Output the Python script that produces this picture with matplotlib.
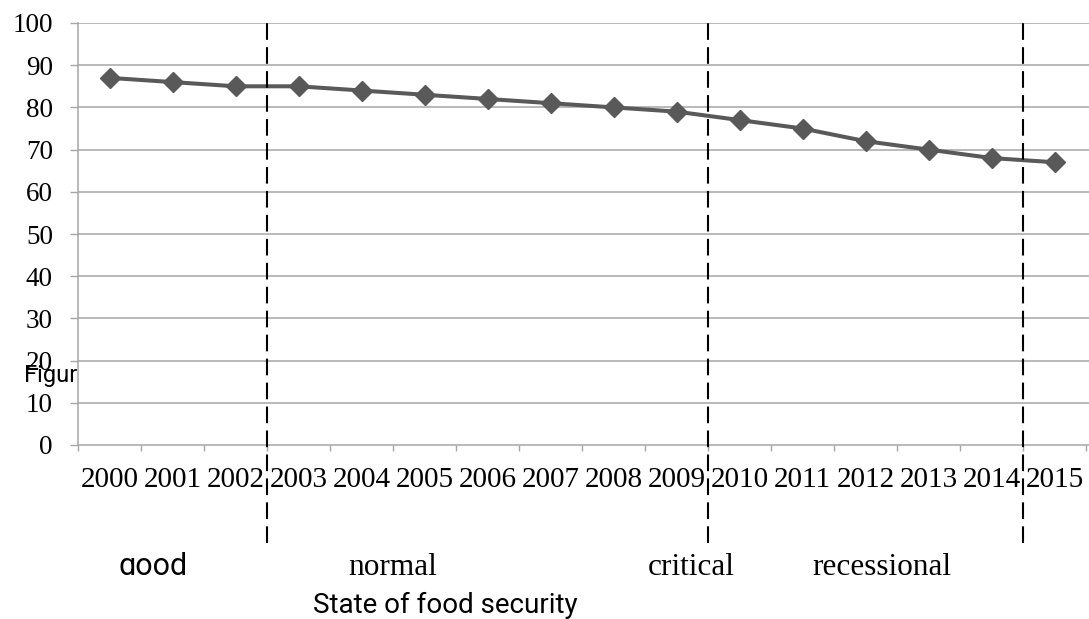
"""
Food security index 2000-2015 with state-of-security periods
"""
import numpy as np
import matplotlib.pyplot as plt
from matplotlib.transforms import Bbox

years = ['2000', '2001', '2002', '2003', '2004', '2005', '2006', '2007',
         '2008', '2009', '2010', '2011', '2012', '2013', '2014', '2015']
index_values = [87, 86, 85, 85, 84, 83, 82, 81, 80, 79, 77, 75, 72, 70, 68, 67]

# period boundaries (between categories)
period_bounds = [2.5, 9.5, 14.5]
period_labels = ['good', 'normal', 'critical', 'recessional']
y_ticks = list(range(0, 101, 10))

W, H = 1089, 619
fig = plt.figure(figsize=(W / 100, H / 100), dpi=100)

# axes placed in pixel terms
x0, x1, y_top, y_bot = 78, 1089, 23, 445
ax = fig.add_axes([x0 / W, 1 - y_bot / H, (x1 - x0) / W, (y_bot - y_top) / H])

step = 63.0
x = np.arange(len(years))
ax.set_xlim(-0.5, -0.5 + (x1 - x0) / step)
ax.set_ylim(0, 100)

grid_col = '#a6a6a6'
for v in y_ticks[1:]:
    ax.axhline(v, color=grid_col, lw=1.1, zorder=1)

ax.plot(x, index_values, color='#595959', lw=2.9, marker='D', markersize=10.5,
        markeredgecolor='#595959', zorder=3)

for b in period_bounds:
    ax.axvline(b, ymin=-0.232, ymax=1, color='black', lw=1.5,
               linestyle=(0, (8, 3.5)), clip_on=False, zorder=4)

for s in ['top', 'right']:
    ax.spines[s].set_visible(False)
for s in ['left', 'bottom']:
    ax.spines[s].set_color(grid_col)
    ax.spines[s].set_linewidth(1.1)

# y axis
ax.set_yticks(y_ticks)
ax.set_yticklabels([str(v) for v in y_ticks], family='Liberation Serif', fontsize=19.5)
ax.tick_params(axis='y', length=6, width=1, color=grid_col, pad=12)

# x axis: ticks at category boundaries, labels at centers
ax.set_xticks(np.arange(-0.5, len(years), 1.0))
ax.set_xticklabels([])
ax.tick_params(axis='x', which='major', length=4, width=1, color=grid_col)
ax.set_xticks(x, minor=True)
ax.set_xticklabels(years, minor=True, family='Liberation Serif', fontsize=21)
ax.tick_params(axis='x', which='minor', length=0, pad=16)


def fig_text(px, py, s, **kw):
    return fig.text(px / W, 1 - py / H, s, **kw)


fig_text(77, 382, 'Figur', family='Roboto', fontsize=17, ha='right', va='baseline')

t = fig_text(119, 575, period_labels[0], family='Roboto', fontsize=22, ha='left', va='baseline')
t.set_clip_box(Bbox([[0, H - 574.5], [W, H]]))
t.set_clip_on(True)

fig_text(348, 575, period_labels[1], family='Liberation Serif', fontsize=22.5, ha='left', va='baseline')
fig_text(648, 575, period_labels[2], family='Liberation Serif', fontsize=22.5, ha='left', va='baseline')
fig_text(812, 575, period_labels[3], family='Liberation Serif', fontsize=22.5, ha='left', va='baseline')

fig_text(313, 613, 'State of food security', family='Roboto', fontsize=20,
         ha='left', va='baseline')

plt.savefig('out.png', dpi=100)
plt.close()
